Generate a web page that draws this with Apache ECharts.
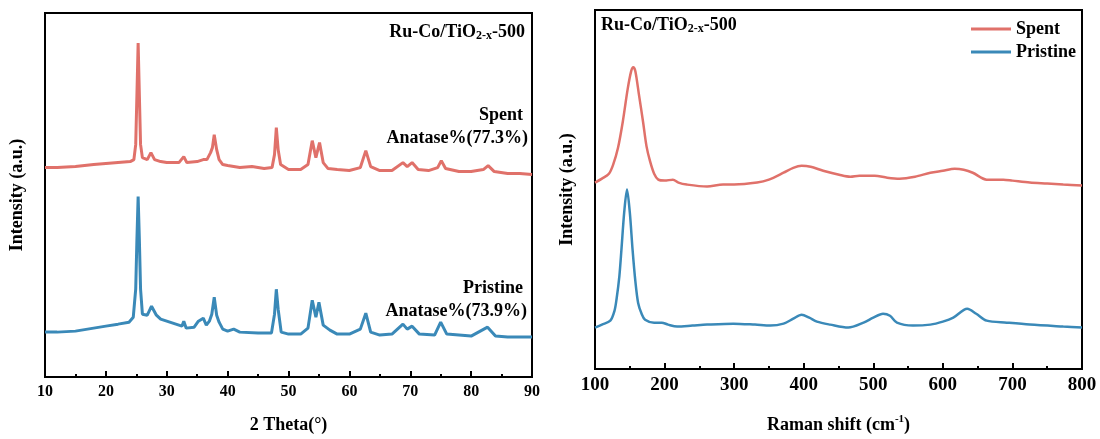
<!DOCTYPE html>
<html><head><meta charset="utf-8">
<script src="https://cdn.jsdelivr.net/npm/echarts@6/dist/echarts.min.js"></script>
<style>html,body{margin:0;padding:0;background:#fff}#c{width:1100px;height:439px}</style>
</head><body><div id="c"></div>
<script>
// ---- XRD (left panel): 2θ (deg) and intensity (a.u., offset stacked) ----
const xrdTheta = [10,12,15,18,20,22,24,24.6,24.9,25.1,25.3,25.5,25.7,26.0,26.8,27.4,28.0,29,30,32,32.8,33.3,35,36,36.6,37.2,37.5,37.8,38.2,38.6,39.2,40,42,44,46,47.3,47.7,48.0,48.3,48.7,50,52,53.2,53.9,54.5,55.1,55.7,56.5,58,60,61.8,62.7,63.5,65,67,68.8,69.5,70.3,71.3,73,74.5,75.1,75.8,78,80,82,82.8,83.8,86,88,90];
const xrdSpent = [210,210,211,213,214,215,216,218,233,283,335,283,233,220,218,225,218,216,215,215,221,215,216,218,218,225,230,243,228,218,213,212,210,211,209,210,223,250,228,213,208,208,213,237,220,235,215,209,208,207,210,227,211,207,207,215,211,215,208,207,210,217,209,206,206,208,212,206,204,204,203];
const xrdThetaP = [10,12,15,18,20,22,23.8,24.5,24.9,25.1,25.3,25.5,25.7,26.0,26.8,27.5,28.3,29,30,31,32.5,32.8,33.2,34.5,35.2,35.5,36.0,36.5,37.0,37.4,37.8,38.2,38.6,39.2,40,41,42,45,47.2,47.7,48.0,48.3,48.8,50,52,53.2,53.9,54.5,55.0,55.7,56.8,58,60,61.8,62.7,63.5,65,67,68.8,69.5,70.3,71.5,74,75.0,76,78,80,82.7,84,86,90];
const xrdPristine = [45,45,46,49,51,53,55,60,88,138,181,138,88,63,62,71,62,58,56,54,51,56,49,50,56,58,59,52,56,63,80,62,55,48,46,48,45,44,44,63,88,68,45,43,43,49,77,60,75,52,47,43,43,48,64,45,42,43,53,48,51,43,42,55,43,42,41,50,41,40,40];

// ---- Raman (right panel): shift (cm-1) and intensity (a.u., offset stacked) ----
const ramanShiftS = [100,110,120,126,133,140,147,152,155,158,163,169,174,179,185,191,200,212,220,232,261,284,300,333,350,371,385,397,410,428,451,467,480,502,520,538,560,582,600,617,630,643,663,687,700,725,750,773,800];
const ramanSpent  = [189,193,198,207,224,251,284,302,306,302,279,251,226,211,198,192,191,192,189,187,185,187,187,189,192,199,204,206,205,201,197,195,196,196,194,193,195,199,201,203,202,199,192,192,191,189,188,187,186];
const ramanShiftP = [100,110,122,128,131,135,138,142,146,150,154,158,162,167,172,185,196,205,218,240,261,299,330,352,371,385,397,408,419,438,464,486,500,514,524,534,557,582,600,615,635,648,663,692,725,773,800];
const ramanPristine = [42,45,49,59,71,94,121,159,182,159,121,89,67,56,50,47,47,45,43,44,45,46,45,44,46,51,55,52,48,45,42,47,52,56,54,47,44,45,48,52,61,56,49,47,45,43,42];

const xrdTicks = [10,20,30,40,50,60,70,80,90];
const ramanTicks = [100,200,300,400,500,600,700,800];
const labelsXRD = {title:'Ru-Co/TiO', sub:'2-x', tail:'-500', spent:'Spent', spentPct:'Anatase%(77.3%)', pristine:'Pristine', pristinePct:'Anatase%(73.9%)'};

const RED = '#E0716A', BLUE = '#3A89B8';
const FF = '"Liberation Serif", "Times New Roman", serif';

function zip(a,b){return a.map((v,i)=>[v,b[i]]);}

const chart = echarts.init(document.getElementById('c'), null, {renderer:'canvas'});

function xAx(gi, min, max, interval, fs, name, nameGap, rich){
  return {
    type:'value', gridIndex:gi, min:min, max:max, interval:interval,
    axisLine:{show:true, onZero:false, lineStyle:{color:'#000', width:2}},
    axisTick:{show:true, inside:true, length:6, lineStyle:{color:'#000', width:2}},
    minorTick:{show:true, splitNumber:2, length:3, lineStyle:{color:'#000', width:2}},
    splitLine:{show:false},
    axisLabel:{color:'#000', fontFamily:FF, fontWeight:'bold', fontSize:fs, margin:7},
    name:name, nameLocation:'middle', nameGap:nameGap,
    nameTextStyle:{color:'#000', fontFamily:FF, fontWeight:'bold', fontSize:18, rich:rich}
  };
}
function yAx(gi, max, gap){
  return {
    type:'value', gridIndex:gi, min:0, max:max,
    axisLine:{show:false}, axisTick:{show:false}, axisLabel:{show:false}, splitLine:{show:false},
    name:'Intensity (a.u.)', nameLocation:'middle', nameRotate:90, nameGap:gap,
    nameTextStyle:{color:'#000', fontFamily:FF, fontWeight:'bold', fontSize:18}
  };
}
function line(name, xi, yi, data, color, w, smooth){
  return {type:'line', name:name, xAxisIndex:xi, yAxisIndex:yi, data:data,
    symbol:'none', showSymbol:false, lineStyle:{color:color, width:w}, itemStyle:{color:color},
    smooth:smooth, animation:false};
}

const supRich = {
  a:{fontFamily:FF, fontWeight:'bold', fontSize:18, color:'#000', lineHeight:22},
  s:{fontFamily:FF, fontWeight:'bold', fontSize:11, color:'#000', lineHeight:11, verticalAlign:'top'}
};

const titleRich = {
  a:{fontFamily:FF, fontWeight:'bold', fontSize:18, fill:'#000', lineHeight:20},
  s:{fontFamily:FF, fontWeight:'bold', fontSize:12, fill:'#000', lineHeight:12, verticalAlign:'bottom'}
};
function titleText(x, y, align){
  return {type:'text', x:x, y:y, z:100, style:{
    text:'{a|'+labelsXRD.title+'}{s|'+labelsXRD.sub+'}{a|'+labelsXRD.tail+'}',
    rich:titleRich, align:align, verticalAlign:'middle'}};
}
function plain(x, y, text){
  return {type:'text', x:x, y:y, z:100, style:{text:text, fontFamily:FF, fontWeight:'bold',
    fontSize:18, fill:'#000', align:'right', verticalAlign:'middle'}};
}

chart.setOption({
  animation:false,
  backgroundColor:'#fff',
  grid:[
    {left:45, top:13, width:487, height:365, show:true, borderColor:'#000', borderWidth:2, backgroundColor:'transparent'},
    {left:595, top:10, width:487, height:364, show:true, borderColor:'#000', borderWidth:2, backgroundColor:'transparent'}
  ],
  xAxis:[
    xAx(0, 10, 90, 10, 16, '2 Theta(°)', 39),
    xAx(1, 100, 800, 100, 19, '{a|Raman shift (cm}{s|-1}{a|)}', 45, supRich)
  ],
  yAxis:[ yAx(0, 365, 19), yAx(1, 364, 19) ],
  legend:{
    data:[{name:'Spent', icon:'rect'},{name:'Pristine', icon:'rect'}],
    orient:'vertical', left:966, top:15, itemWidth:40, itemHeight:3, itemGap:5,
    textStyle:{fontFamily:FF, fontWeight:'bold', fontSize:18, color:'#000'}
  },
  series:[
    line('Spent XRD', 0, 0, zip(xrdTheta, xrdSpent), RED, 3, false),
    line('Pristine XRD', 0, 0, zip(xrdThetaP, xrdPristine), BLUE, 3, false),
    line('Spent', 1, 1, zip(ramanShiftS, ramanSpent), RED, 2.5, 0.3),
    line('Pristine', 1, 1, zip(ramanShiftP, ramanPristine), BLUE, 2.5, 0.3)
  ],
  graphic:[
    titleText(525, 32, 'right'),
    titleText(601, 25, 'left'),
    plain(523, 115, labelsXRD.spent),
    plain(528, 138, labelsXRD.spentPct),
    plain(523, 288, labelsXRD.pristine),
    plain(527, 311, labelsXRD.pristinePct)
  ]
});
</script></body></html>
